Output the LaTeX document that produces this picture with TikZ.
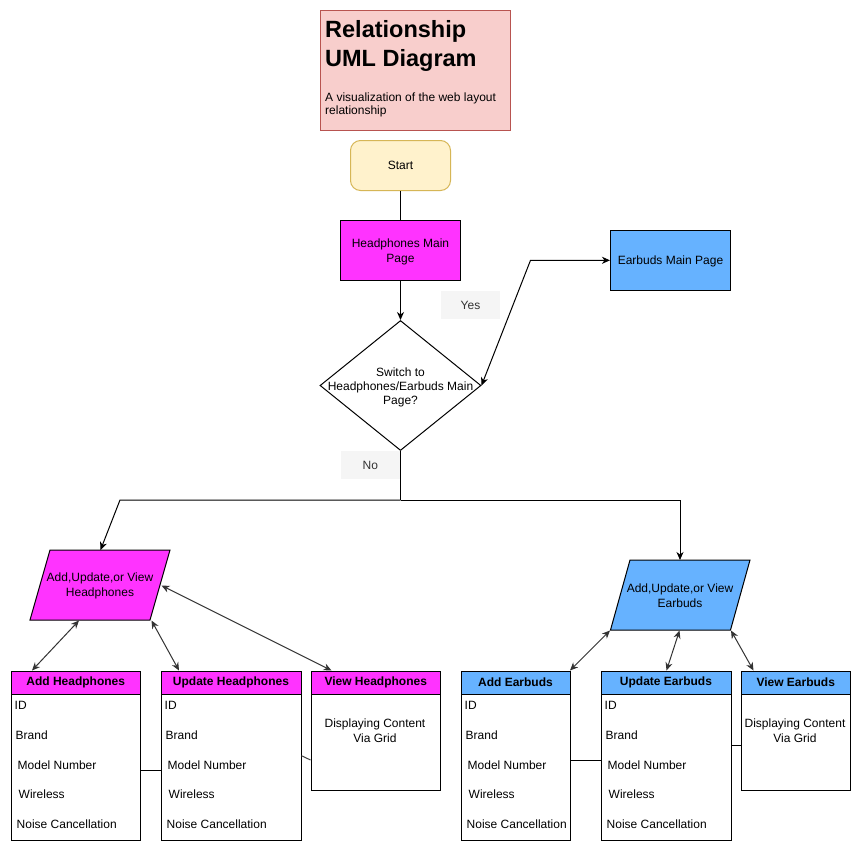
\documentclass[tikz,border=0pt]{standalone}
\usepackage{fontspec}
\setmainfont{Liberation Sans}
\usetikzlibrary{arrows.meta,shapes.geometric}
\definecolor{magF}{HTML}{FF33FF}
\definecolor{bluF}{HTML}{66B2FF}
\definecolor{titF}{HTML}{F8CECC}
\definecolor{titD}{HTML}{B85450}
\definecolor{staF}{HTML}{FFF2CC}
\definecolor{staD}{HTML}{D6B656}
\definecolor{lblF}{HTML}{F5F5F5}
\definecolor{lblT}{HTML}{333333}
\newcommand\ftw{\fontsize{12}{15}\selectfont}
\tikzset{
  tipc/.tip={Stealth[length=8pt,width=7pt,inset=2.5pt]},
  shape box/.style={draw, line width=1pt, inner sep=0pt, align=center, font=\ftw},
  lbl/.style={fill=lblF, text=lblT, minimum width=59pt, minimum height=28pt, inner sep=0pt, font=\ftw},
  conn/.style={line width=1pt, draw=black},
  dconn/.style={line width=1pt, draw=black!80, tipc-tipc},
  hdr/.style={draw, line width=1pt, anchor=north west, minimum height=23pt, inner sep=0pt, font=\bfseries\ftw},
  bod/.style={draw, line width=1pt, anchor=north west, fill=white, inner sep=0pt},
  item/.style={anchor=west, inner sep=0pt, font=\ftw},
  plain/.style={inner sep=0pt, align=center, font=\ftw}
}
\newcommand\tabitems[1]{%
  \foreach \t/\dx/\yy in {ID/4/705, Brand/5/735, Model Number/7/765, Wireless/8/794, Noise Cancellation/6/824}
    {\node[item] at ({#1+\dx},\yy) {\t};}}
\begin{document}
\begin{tikzpicture}[x=1pt,y=-1pt]
\useasboundingbox (0,0) rectangle (860,841);
\fill[white] (0,0) rectangle (860,841);

% title
\node[draw=titD, fill=titF, line width=1pt, anchor=north west, minimum width=190.5pt, minimum height=120pt, inner sep=0pt] (title) at (319.5,10.3) {};
\node[anchor=base west, inner sep=0pt, font=\bfseries\fontsize{23.5}{28}\selectfont] at (325,37.5) {Relationship};
\node[anchor=base west, inner sep=0pt, font=\bfseries\fontsize{23.5}{28}\selectfont] at (325,66.5) {UML Diagram};
\node[anchor=base west, inner sep=0pt, font=\ftw] at (325,101) {A visualization of the web layout};
\node[anchor=base west, inner sep=0pt, font=\ftw] at (325,114.5) {relationship};

% start
\node[shape box, draw=staD, fill=staF, rounded corners=10pt, minimum width=100pt, minimum height=50pt] (start) at (400.5,165.5) {Start};
% headphones main
\node[shape box, fill=magF, minimum width=120pt, minimum height=60pt] (hmp) at (400.5,250.3) {};
\node[plain] at (400.5,252.3) {Headphones Main\\Page};
% earbuds main
\node[shape box, fill=bluF, minimum width=120pt, minimum height=60pt] (emp) at (670.5,260.3) {};
\node[plain] at (670.5,261) {Earbuds Main Page};
% decision
\node[diamond, draw, line width=1pt, fill=white, minimum width=161pt, minimum height=130pt, inner sep=0pt] (dec) at (400.5,385.5) {};
\node[plain, font=\fontsize{12}{14.2}\selectfont] at (400.5,387.3) {Switch to\\Headphones/Earbuds Main\\Page?};
% labels
\node[lbl] (yes) at (470.5,305) {Yes};
\node[lbl] (no) at (370.3,465.2) {No};

% parallelograms
\coordinate (pl1) at (50,550); \coordinate (pl2) at (170,550);
\coordinate (pl3) at (150,620); \coordinate (pl4) at (30,620);
\filldraw[fill=magF, line width=1pt] (pl1) -- (pl2) -- (pl3) -- (pl4) -- cycle;
\node[plain] (pH) at (100,586) {Add,Update,or View\\Headphones};
\coordinate (pr1) at (630,560); \coordinate (pr2) at (750,560);
\coordinate (pr3) at (730.5,630); \coordinate (pr4) at (610.5,630);
\filldraw[fill=bluF, line width=1pt] (pr1) -- (pr2) -- (pr3) -- (pr4) -- cycle;
\node[plain] (pE) at (680,596) {Add,Update,or View\\Earbuds};

% flow connectors
\draw[conn] (start) -- (hmp);
\draw[conn, -tipc] (hmp) -- (dec.north);
\coordinate (bend) at (530.5,260.3);
\draw[conn, tipc-tipc] (dec.east) -- (bend) -- (emp.west);
\coordinate (split) at (400.5,500);
\coordinate (splitL) at (120,500);
\coordinate (splitR) at (680,500);
\coordinate (pHtop) at (100.5,550);
\coordinate (pEtop) at (680,560);
\draw[conn] (dec.south) -- (split);
\draw[conn, -tipc] (split) -- (splitL) -- (pHtop);
\draw[conn, -tipc] (split) -- (splitR) -- (pEtop);

% headphone tables
\node[bod, minimum width=129.5pt, minimum height=147pt] (addHb) at (10.5,693) {};
\node[hdr, fill=magF, minimum width=129.5pt] (addH) at (10.5,670.5) {Add Headphones};
\tabitems{10.5}
\node[bod, minimum width=140pt, minimum height=147pt] (updHb) at (160.5,693) {};
\node[hdr, fill=magF, minimum width=140pt] (updH) at (160.5,670.5) {Update Headphones};
\tabitems{160.5}
\node[bod, minimum width=129.5pt, minimum height=97pt] (viewHb) at (310.5,693) {};
\node[hdr, fill=magF, minimum width=129.5pt] (viewH) at (310.5,670.5) {View Headphones};
\node[plain] at (375,730.5) {Displaying Content\\Via Grid};

% earbud tables
\node[bod, minimum width=109pt, minimum height=147pt] (addEb) at (460.5,693) {};
\node[hdr, fill=bluF, minimum width=109pt] (addE) at (460.5,670.5) {Add Earbuds};
\tabitems{460.5}
\node[bod, minimum width=130pt, minimum height=147pt] (updEb) at (600.5,693) {};
\node[hdr, fill=bluF, minimum width=130pt] (updE) at (600.5,670.5) {Update Earbuds};
\tabitems{600.5}
\node[bod, minimum width=109.5pt, minimum height=97pt] (viewEb) at (740.5,693) {};
\node[hdr, fill=bluF, minimum width=109.5pt] (viewE) at (740.5,670.5) {View Earbuds};
\node[plain] at (795,730.5) {Displaying Content\\Via Grid};

% table links
\draw[conn] ([yshift=-77.5pt]addHb.north east) -- ([yshift=-77.5pt]updHb.north west);
\draw[conn, draw=black!75] ([yshift=-62.7pt]updHb.north east) -- ([yshift=-67pt]viewHb.north west);
\draw[conn] ([yshift=-67.7pt]addEb.north east) -- ([yshift=-67.7pt]updEb.north west);
\draw[conn] ([yshift=-52.7pt]updEb.north east) -- ([yshift=-52.7pt]viewEb.north west);

% bidirectional arrows
\coordinate (a1) at (79,620.5);   \coordinate (b1) at (32,670.5);
\coordinate (a2) at (151.5,620.5); \coordinate (b2) at (179,670.5);
\coordinate (a3) at (161.5,585.5); \coordinate (b3) at (331.5,670.5);
\coordinate (a4) at (610,630.5);  \coordinate (b4) at (570,670.5);
\coordinate (a5) at (679.5,630.5); \coordinate (b5) at (666.5,670.5);
\coordinate (a6) at (731,630.5);  \coordinate (b6) at (753.5,670.5);
\foreach \i in {1,...,6} {\draw[dconn] (a\i) -- (b\i);}
\end{tikzpicture}
\end{document}
